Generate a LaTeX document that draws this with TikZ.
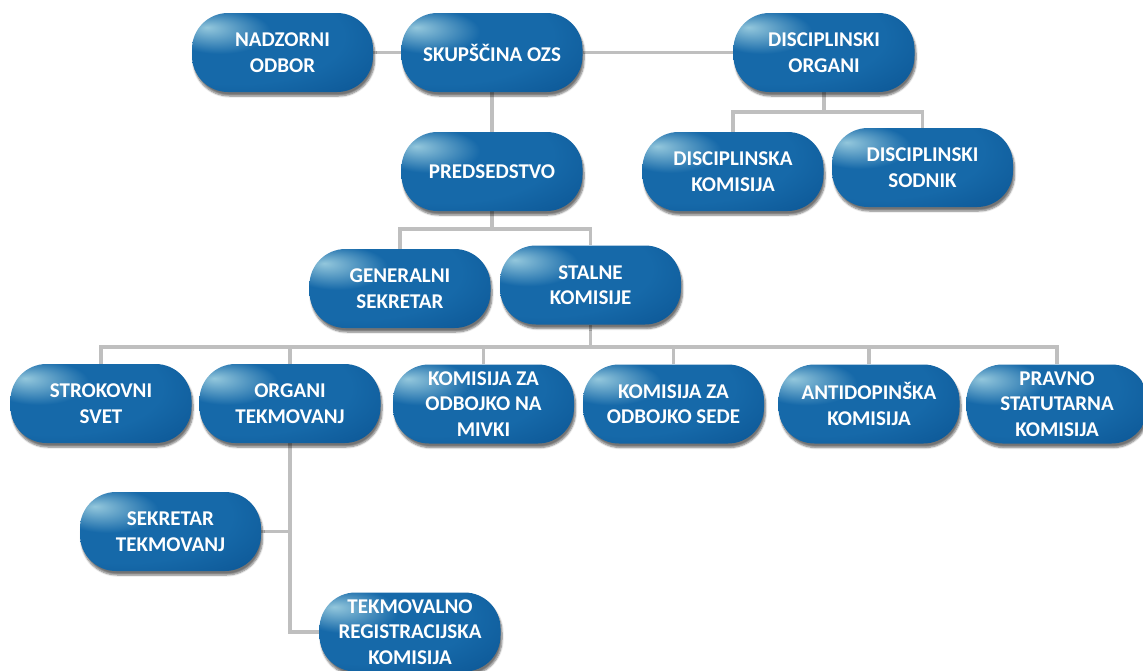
\documentclass[tikz,border=0pt]{standalone}
\usepackage{fontspec}
\setmainfont{Carlito}
\usepackage{xcolor}
\usepackage{tikz}
\usetikzlibrary{shadows,shadows.blur,positioning}
\pgfdeclarelayer{bg}
\pgfsetlayers{bg,main}

\definecolor{boxmid}{HTML}{1669A9}
\definecolor{boxdark}{HTML}{0A5290}
\definecolor{boxhigh}{HTML}{93C7DC}
\definecolor{linegray}{HTML}{BFBFBF}

\pgfdeclareradialshading{orgshade}{\pgfpoint{-21bp}{16bp}}{%
	color(0bp)=(boxhigh); color(14bp)=(boxmid); color(30bp)=(boxmid);
	color(50bp)=(boxdark); color(80bp)=(boxdark)}

\begin{document}
\begin{tikzpicture}[
			x=1pt, y=-1pt,
			every node/.style={font=\bfseries\fontsize{21}{25.5}\selectfont, text=white, align=center},
			orgbox/.style={rectangle, rounded corners=36pt, minimum width=181pt, minimum height=79pt,
				inner sep=0pt, shade, shading=orgshade,
				blur shadow={shadow xshift=1.5pt, shadow yshift=-4pt, shadow blur steps=6, shadow opacity=55}},
			link/.style={draw=linegray, line width=3.5pt}
			]
			\useasboundingbox (0,0) rectangle (1143,670);

			\node[orgbox] (nadzorni) at (282.5,52.5) {NADZORNI\\ODBOR};
			\node[orgbox] (skupscina) at (492,52.5) {SKUPŠČINA OZS};
			\node[orgbox] (disorgani) at (824,52.5) {DISCIPLINSKI\\ORGANI};
			\node[orgbox] (predsedstvo) at (492,171.5) {PREDSEDSTVO};
			\node[orgbox] (diskomisija) at (733,171.5) {DISCIPLINSKA\\KOMISIJA};
			\node[orgbox] (dissodnik) at (922.5,167.5) {DISCIPLINSKI\\SODNIK};
			\node[orgbox] (generalni) at (400,288.5) {GENERALNI\\SEKRETAR};
			\node[orgbox] (stalne) at (590.5,285) {STALNE\\KOMISIJE};

			\node[orgbox] (strokovni) at (101,403.5) {STROKOVNI\\SVET};
			\node[orgbox] (organi) at (290,403.5) {ORGANI\\TEKMOVANJ};
			\node[orgbox] (mivki) at (483.5,404) {KOMISIJA ZA\\ODBOJKO NA\\MIVKI};
			\node[orgbox] (sede) at (673.5,404) {KOMISIJA ZA\\ODBOJKO SEDE};
			\node[orgbox] (antidop) at (869,404) {ANTIDOPINŠKA\\KOMISIJA};
			\node[orgbox] (pravno) at (1057,404) {PRAVNO\\STATUTARNA\\KOMISIJA};

			\node[orgbox] (sekretar) at (170.5,531.5) {SEKRETAR\\TEKMOVANJ};
			\node[orgbox] (tekmovalno) at (410,632) {TEKMOVALNO\\REGISTRACIJSKA\\KOMISIJA};

			\coordinate (disbus) at (824,112);
			\coordinate (predbus) at (492,229);
			\coordinate (stalbus) at (590.5,347);

			\begin{pgfonlayer}{bg}
			\draw[link] (nadzorni) -- (skupscina);
			\draw[link] (skupscina) -- (disorgani);
			\draw[link] (skupscina) -- (predsedstvo);

			\draw[link] (disorgani) -- (disbus);
			\draw[link] (diskomisija) |- (disbus) -| (dissodnik);

			\draw[link] (predsedstvo) -- (predbus);
			\draw[link] (generalni) |- (predbus) -| (stalne);

			\draw[link] (stalne) -- (stalbus);
			\draw[link] (strokovni) |- (stalbus) -| (pravno);
			\foreach \n in {organi,mivki,sede,antidop}
				\draw[link] (\n) -- (\n |- stalbus);

			\draw[link] (organi) |- (tekmovalno);
			\draw[link] (sekretar) -- (sekretar -| organi);
			\end{pgfonlayer}

			\end{tikzpicture}
\end{document}
